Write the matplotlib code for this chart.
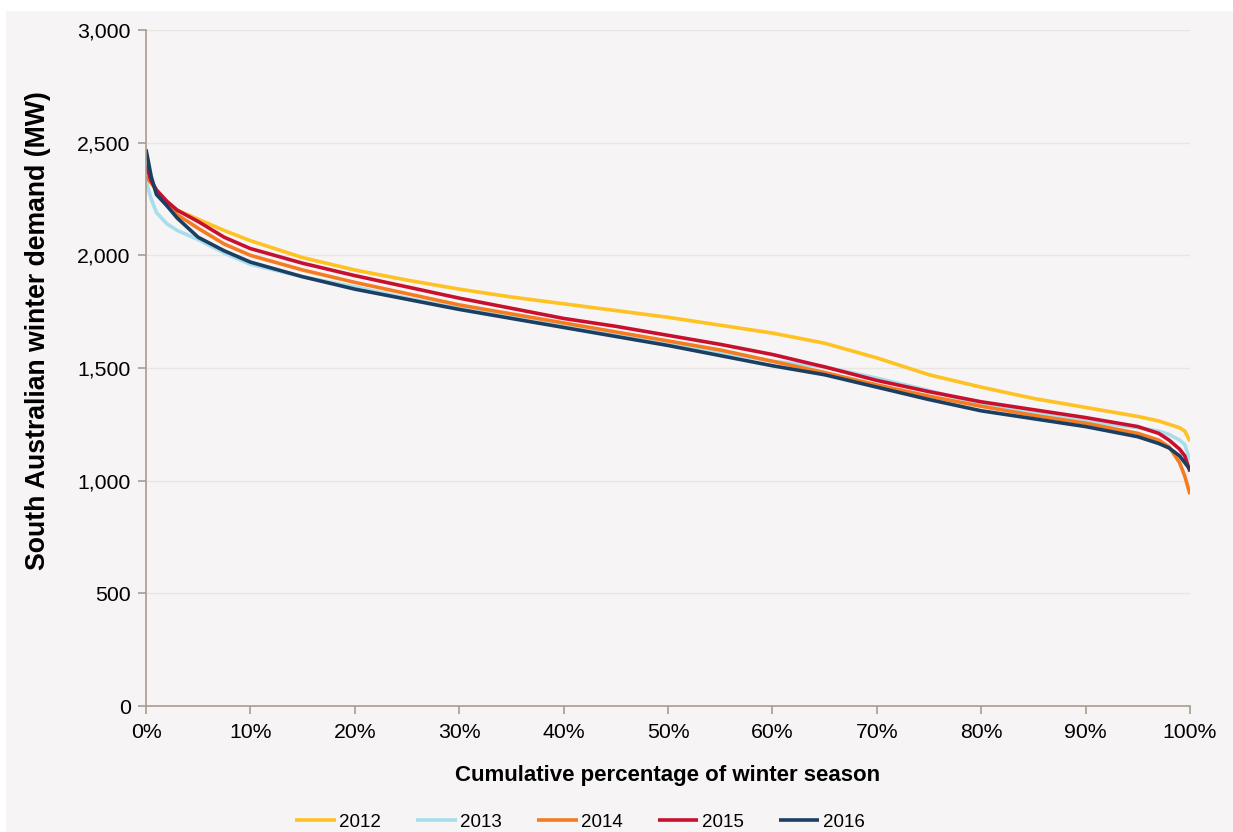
import matplotlib
matplotlib.use("Agg")
import matplotlib.pyplot as plt
from matplotlib.patches import Rectangle
from matplotlib.ticker import FuncFormatter

plt.rcParams['font.family'] = ['Liberation Sans', 'DejaVu Sans']

pct = [0, 0.5, 1, 2, 3, 5, 7.5, 10, 15, 20, 25, 30, 35, 40, 45, 50, 55, 60, 65, 70,
       75, 80, 85, 90, 95, 97, 98, 99, 99.5, 100]

y2012 = [2400, 2330, 2280, 2230, 2200, 2160, 2110, 2065, 1990, 1935, 1890, 1850, 1815, 1785,
         1755, 1725, 1690, 1655, 1610, 1545, 1470, 1415, 1365, 1325, 1285, 1265, 1250, 1235,
         1220, 1175]
y2013 = [2330, 2250, 2190, 2140, 2110, 2070, 2010, 1960, 1905, 1860, 1810, 1765, 1725, 1685,
         1645, 1605, 1570, 1530, 1505, 1455, 1400, 1340, 1300, 1265, 1235, 1220, 1205, 1180,
         1160, 1090]
y2014 = [2350, 2320, 2290, 2230, 2180, 2120, 2050, 2000, 1935, 1880, 1830, 1780, 1740, 1700,
         1660, 1620, 1580, 1530, 1480, 1425, 1375, 1330, 1290, 1255, 1210, 1180, 1150, 1080,
         1020, 940]
y2015 = [2400, 2330, 2290, 2240, 2200, 2150, 2080, 2030, 1965, 1910, 1860, 1810, 1765, 1720,
         1685, 1645, 1605, 1560, 1505, 1445, 1395, 1350, 1315, 1280, 1240, 1210, 1180, 1140,
         1110, 1040]
y2016 = [2470, 2350, 2270, 2220, 2165, 2080, 2020, 1970, 1905, 1850, 1805, 1760, 1720, 1680,
         1640, 1600, 1555, 1510, 1470, 1415, 1360, 1310, 1275, 1240, 1195, 1165, 1145, 1110,
         1080, 1050]

series = [("2012", y2012, "#FFC222"),
          ("2013", y2013, "#A8DDEB"),
          ("2014", y2014, "#F47B20"),
          ("2015", y2015, "#C8102E"),
          ("2016", y2016, "#1B3F63")]

bg = "#F6F4F5"
spine_c = "#A89C8C"

fig = plt.figure(figsize=(12.33, 8.32), dpi=100, facecolor="white")
fig.patches.append(Rectangle((6 / 1233, 0), 1 - 6 / 1233, 821 / 832, transform=fig.transFigure,
                             facecolor=bg, edgecolor="none", zorder=-10))

ax = fig.add_axes([146 / 1233, 1 - 706 / 832, (1190 - 146) / 1233, (706 - 30) / 832])
ax.set_zorder(5)
ax.set_facecolor(bg)

for name, vals, col in series:
    ax.plot(pct, vals, color=col, lw=2.6, label=name, solid_capstyle="butt")

ax.set_xlim(0, 100)
ax.set_ylim(0, 3000)
ax.set_xticks(range(0, 101, 10))
ax.set_yticks(range(0, 3001, 500))
ax.xaxis.set_major_formatter(FuncFormatter(lambda v, p: f"{int(v)}%"))
ax.yaxis.set_major_formatter(FuncFormatter(lambda v, p: f"{int(v):,}"))
ax.grid(axis="y", color="#E9E5E2", lw=1)
ax.set_axisbelow(True)

for s in ["top", "right"]:
    ax.spines[s].set_visible(False)
for s in ["left", "bottom"]:
    ax.spines[s].set_color(spine_c)
    ax.spines[s].set_linewidth(1.2)
ax.tick_params(axis="both", colors=spine_c, length=6, width=1.2, labelsize=15.3,
               labelcolor="black")
ax.tick_params(axis="y", pad=5)
ax.tick_params(axis="x", pad=6)

ax.set_xlabel("Cumulative percentage of winter season", fontsize=16, fontweight="bold",
              labelpad=17)
ax.set_ylabel("South Australian winter demand (MW)", fontsize=19.2, fontweight="bold")
ax.yaxis.set_label_coords((51 - 146) / 1044, (706 - 331) / 676)

fs = 13.5
ax.legend(loc="center left", bbox_to_anchor=((296 - 146) / 1044 - 0.015, -0.172), ncol=5,
          frameon=False, fontsize=fs, handlelength=2.15, handletextpad=0.17,
          columnspacing=1.9, borderpad=0.3)

fig.savefig("out.png", dpi=100, facecolor="white")
